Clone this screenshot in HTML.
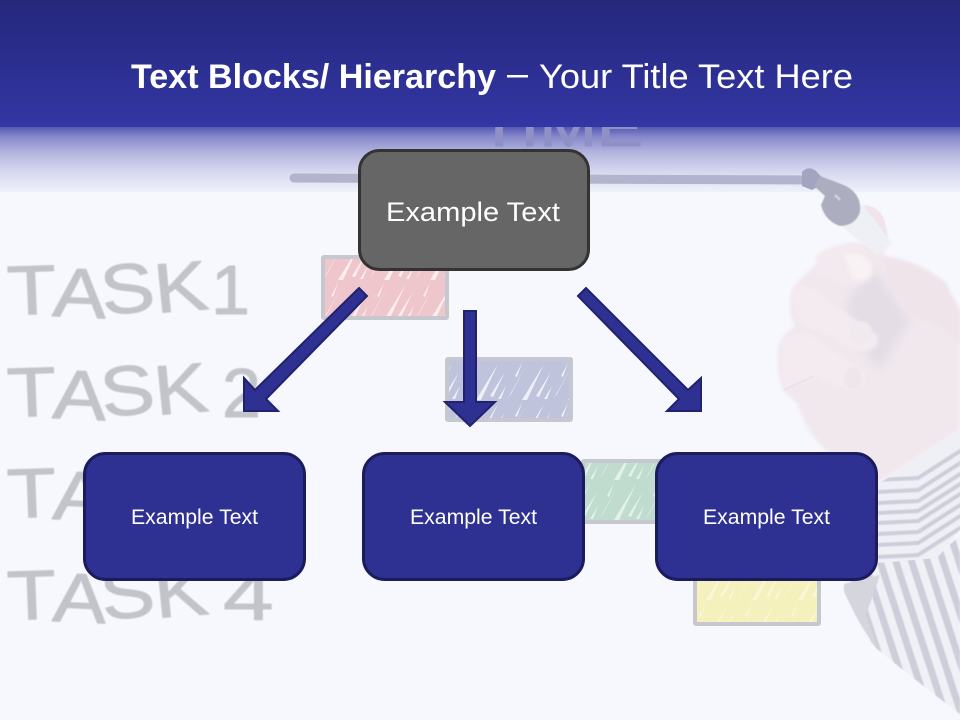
<!DOCTYPE html>
<html lang="en">
<head>
<meta charset="utf-8">
<title>Text Blocks/ Hierarchy</title>
<style>
html,body{margin:0;padding:0;width:960px;height:720px;overflow:hidden;background:#f6f8fe}
svg{display:block}
text{font-family:"Liberation Sans",sans-serif}
</style>
</head>
<body>
<svg width="960" height="720" viewBox="0 0 960 720" xmlns="http://www.w3.org/2000/svg">
<defs>
<linearGradient id="hdr" x1="0" y1="0" x2="0" y2="1">
<stop offset="0" stop-color="#25287a"/><stop offset="0.25" stop-color="#282b85"/><stop offset="1" stop-color="#3336a4"/>
</linearGradient>
<linearGradient id="fade" x1="0" y1="0" x2="0" y2="1">
<stop offset="0" stop-color="#5557b2"/>
<stop offset="0.15" stop-color="#8688cb"/>
<stop offset="0.4" stop-color="#b5b6df"/>
<stop offset="0.7" stop-color="#d8d9ef"/>
<stop offset="1" stop-color="#eff1fa"/>
</linearGradient>
<pattern id="hatch" width="46" height="40" patternUnits="userSpaceOnUse">
<g fill="#fff">
<path d="M2 38 L20 6 L5 34Z"/>
<path d="M16 40 L38 4 L21 40Z"/>
<path d="M30 36 L45 12 L33 37Z"/>
<path d="M9 16 L16 3 L11 17Z"/>
<path d="M38 39 L46 26 L41 39Z"/>
</g>
</pattern>
<pattern id="sleeve" width="15" height="20" patternUnits="userSpaceOnUse" patternTransform="rotate(-18)">
<rect width="7" height="20" fill="#cdced9"/><rect x="7" width="8" height="20" fill="#f0f1f7"/>
</pattern>
<clipPath id="cuffclip"><path d="M878 484 L960 430 L960 530 L937 558 L878 563Z"/></clipPath>
<filter id="soft"><feGaussianBlur stdDeviation="0.6"/></filter>
<filter id="soft2"><feGaussianBlur stdDeviation="1.8"/></filter>
<filter id="soft3"><feGaussianBlur stdDeviation="5"/></filter>
</defs>

<rect width="960" height="720" fill="#f6f8fe"/>
<rect y="127" width="960" height="65" fill="url(#fade)"/>

<!-- background: task labels -->
<g fill="#c2c4ca" stroke="#c2c4ca" stroke-width="1" stroke-linejoin="round" font-size="70" filter="url(#soft)">
<g transform="scale(1.15 1)">
<text x="7 45 90 136" y="315 316 315 313" rotate="-2 3 -6 -5">TASK</text>
<text x="7 45 90 136" y="417 418 417 415" rotate="-2 3 -6 -5">TASK</text>
<text x="7 45 90 136" y="518 519 518 516" rotate="-2 3 -6 -5">TASK</text>
<text x="7 45 90 136" y="620 621 620 618" rotate="-2 3 -6 -5">TASK</text>
</g>
<text x="211" y="314">1</text>
<text x="222" y="417">2</text>
<text x="222" y="518">3</text>
<text transform="scale(1.3 1)" x="171.500" y="620">4</text>
</g>
<text x="478" y="146" font-size="56" fill="#8f90c6" stroke="#8f90c6" stroke-width="1" textLength="165" lengthAdjust="spacingAndGlyphs">TIME</text>

<!-- timeline -->
<path d="M294 178 L812 180" stroke="#b1b4cc" stroke-width="9" stroke-linecap="round" fill="none"/>
<path d="M802 172 Q808 165 816 171 L826 182 L812 190 L802 186Z" fill="#a2a4c0"/>

<!-- chart bars -->
<g stroke="#c6c7cf" stroke-width="4">
<rect x="323" y="257" width="124" height="61" rx="1" fill="#eec6cb"/>
<rect x="447" y="359" width="124" height="61" rx="1" fill="#bfc3dc"/>
<rect x="583" y="461" width="124" height="61" rx="1" fill="#bfdccf"/>
<rect x="695" y="562" width="124" height="62" rx="1" fill="#f5f1bd"/>
</g>
<rect x="325" y="259" width="120" height="57" fill="url(#hatch)" opacity=".7"/>
<rect x="449" y="361" width="120" height="57" fill="url(#hatch)" opacity=".75"/>
<rect x="585" y="463" width="120" height="57" fill="url(#hatch)" opacity=".6"/>
<rect x="697" y="564" width="120" height="58" fill="url(#hatch)" opacity=".4"/>

<!-- sleeve and cuff -->
<path d="M878 562 L937 557 L960 535 L960 714 Q915 680 876 648 Q858 625 844 590 L846 583Z" fill="url(#sleeve)" filter="url(#soft)"/>
<path d="M844 584 L880 575 L866 615 L878 649 Q858 625 844 590Z" fill="#d4d5dd" filter="url(#soft)"/>
<g clip-path="url(#cuffclip)">
<rect x="870" y="425" width="95" height="145" fill="#eff0f6"/>
<g stroke="#cdced9" stroke-width="4" fill="none" filter="url(#soft)">
<polyline points="878,480 918,478 965,448"/>
<polyline points="878,492 918,490 965,460"/>
<polyline points="878,503 918,501 965,471"/>
<polyline points="878,513 918,511 965,481"/>
<polyline points="878,523 918,521 965,491"/>
<polyline points="878,534 918,532 965,502"/>
<polyline points="878,545 918,543 965,513"/>
<polyline points="878,557 918,555 965,525"/>
</g>
</g>

<!-- hand -->
<path d="M884 257 Q920 262 945 283 L960 312 L960 430 L877 484 Q850 470 825 450 Q805 430 797 403 L783 390 Q775 370 779 345 Q785 330 795 327 Q785 305 795 285 Q815 262 850 243 L885 245Z" fill="#f1e8ee" filter="url(#soft2)"/>
<!-- finger behind pen -->
<path d="M862 205 Q880 205 885 222 L888 238 L870 225Z" fill="#efe4ea" filter="url(#soft)"/>
<!-- palm shading -->
<path d="M850 295 L875 270 L910 320 L895 345 L880 370 L858 345 L842 330Z" fill="#e4dde6" filter="url(#soft3)"/>
<!-- fingers -->
<path d="M815 258 Q825 245 855 243 Q874 250 872 275 Q865 286 848 284 Q830 280 817 272Z" fill="#f3eaef" filter="url(#soft2)"/>
<path d="M845 254 Q866 250 872 270 Q868 282 852 278Z" fill="#f8f2f5" filter="url(#soft2)"/>
<path d="M883 256 Q920 262 945 283 L960 312 L960 345 Q935 320 913 318 Q885 290 883 256Z" fill="#efe4ea" filter="url(#soft2)"/>
<path d="M792 290 Q808 280 825 298 L877 335 Q882 350 862 352 Q845 348 835 338 L797 322Z" fill="#f3ebf0" filter="url(#soft2)"/>
<ellipse cx="861" cy="333" rx="11" ry="12" fill="#f0e9ee" filter="url(#soft)"/>
<path d="M780 345 Q795 325 815 338 L864 372 Q870 388 852 390 Q830 384 815 378 L784 390Z" fill="#f3ebf0" filter="url(#soft2)"/>
<ellipse cx="853" cy="378" rx="9" ry="11" fill="#efe6ec" filter="url(#soft)"/>
<path d="M784 390 L814 376" stroke="#e8dde3" stroke-width="1.500" fill="none" filter="url(#soft)"/>

<!-- pen -->
<g filter="url(#soft)">
<polygon points="840,225 863,205 892,243 877,255" fill="#eff0f6"/>
<path d="M820 176 L836 182 L846 186 Q862 195 860 212 Q855 226 840 226 Q825 221 821 205 L825 196 L814 186Z" fill="#acadbe"/>
<path d="M835 195 L840 200" stroke="#d8d9e2" stroke-width="2"/>
</g>

<!-- header -->
<rect width="960" height="127" fill="url(#hdr)"/>

<!-- title -->
<text x="131" y="88" font-size="34" font-weight="700" fill="#fff" textLength="365" lengthAdjust="spacingAndGlyphs">Text Blocks/ Hierarchy</text>
<rect x="507" y="75" width="21" height="2.500" fill="#fff"/>
<text x="539" y="88" font-size="34" fill="#fff" textLength="314" lengthAdjust="spacingAndGlyphs">Your Title Text Here</text>

<!-- top box -->
<rect x="359.500" y="150.500" width="229" height="119" rx="20" fill="#666" stroke="#333" stroke-width="3"/>
<text x="386" y="221" font-size="27" fill="#fff" textLength="174" lengthAdjust="spacingAndGlyphs">Example Text</text>

<!-- arrows -->
<g fill="#2e3092" stroke="#20226e" stroke-width="2" stroke-linejoin="miter">
<polygon points="359,288 367,296 266,399 278,411 244,411 244,378 255,390"/>
<polygon points="464,311 476,311 476,402 495,402 470,426 445,402 464,402"/>
<polygon points="578,296 586,288 688,390 701,378 701,411 667,411 679,399"/>
</g>

<!-- bottom boxes -->
<g fill="#2e3092" stroke="#1a1c5c" stroke-width="3">
<rect x="84.500" y="453.500" width="220" height="126" rx="21"/>
<rect x="363.500" y="453.500" width="220" height="126" rx="21"/>
<rect x="656.500" y="453.500" width="220" height="126" rx="21"/>
</g>
<g font-size="21" fill="#fff">
<text x="131" y="524" textLength="127" lengthAdjust="spacingAndGlyphs">Example Text</text>
<text x="410" y="524" textLength="127" lengthAdjust="spacingAndGlyphs">Example Text</text>
<text x="703" y="524" textLength="127" lengthAdjust="spacingAndGlyphs">Example Text</text>
</g>
</svg>
</body>
</html>
